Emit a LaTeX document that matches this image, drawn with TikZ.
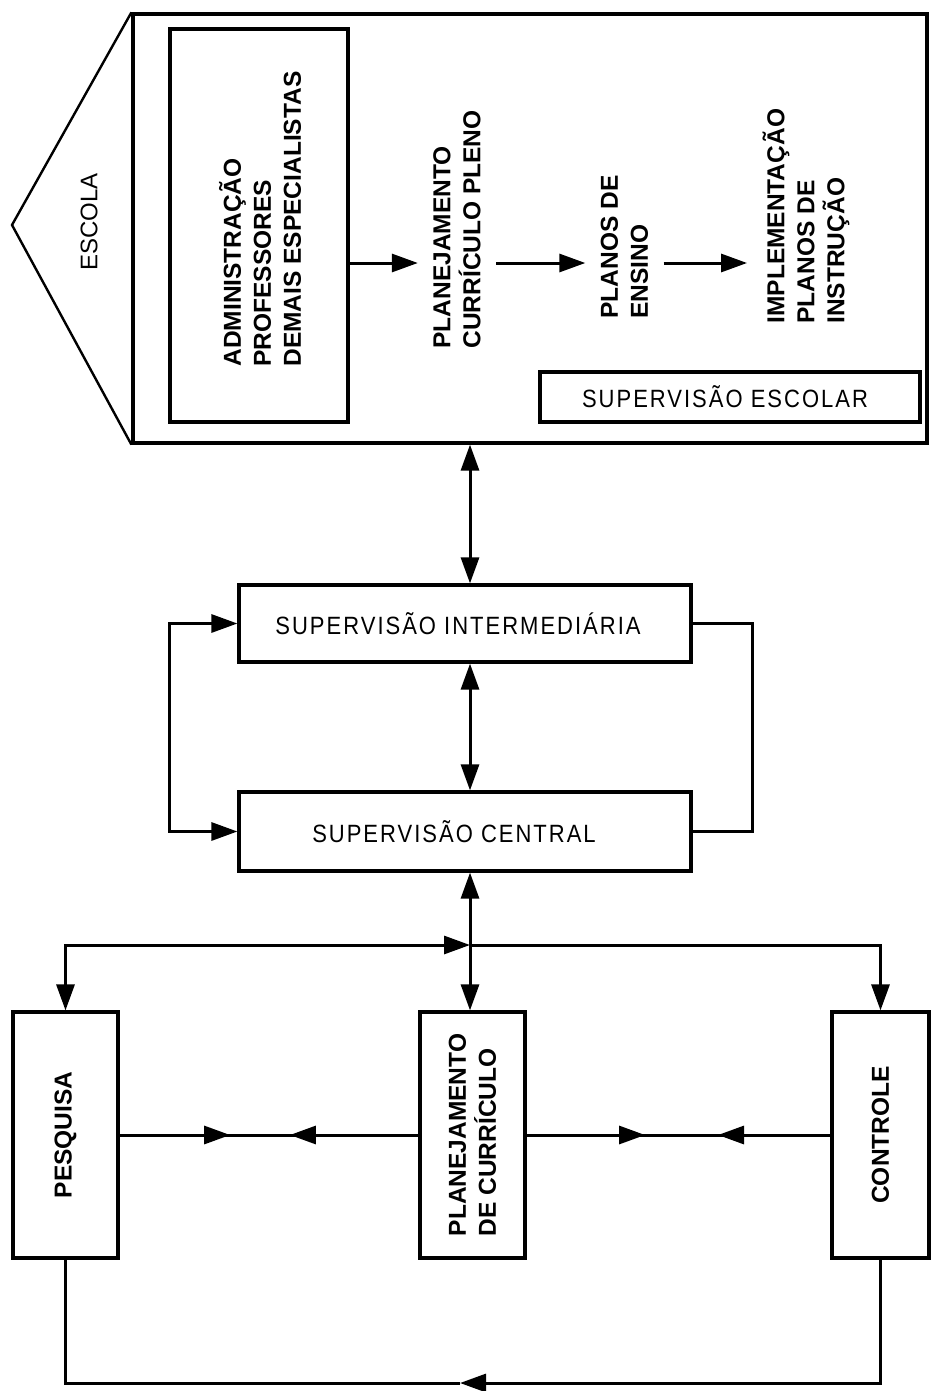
\documentclass[tikz,border=0pt]{standalone}
\usepackage{fontspec}
\setmainfont{Liberation Sans}
\newfontfamily\condsans{Liberation Sans}[FakeStretch=0.88,LetterSpace=8]
\usetikzlibrary{arrows.meta,calc}
\begin{document}
\begin{tikzpicture}[x=1pt,y=-1pt,
  line width=3pt,
  arr/.style={-{Triangle[length=26pt,width=18pt]}},
  darr/.style={{Triangle[length=26pt,width=18pt]}-{Triangle[length=26pt,width=18pt]}},
  box/.style={draw, line width=3.2pt, inner sep=0pt},
  rtext/.style={rotate=90, font=\fontsize{24.5}{30}\selectfont\bfseries, align=left, inner xsep=0pt, inner ysep=14pt},
  htext/.style={font=\condsans\fontsize{25}{28}\selectfont}]
\useasboundingbox (0,0) rectangle (930,1391);

% ---- ESCOLA (pentagon) ----
\node[box, minimum width=794pt, minimum height=429pt] (escola) at (530,228.5) {};
\coordinate (tip) at (12,225);
\draw[line width=2.4pt] (escola.north west) -- (tip) -- (escola.south west);
\node[rotate=90, font=\fontsize{24}{28}\selectfont] (escolalbl) at (89,222) {ESCOLA};

\node[box, minimum width=178pt, minimum height=393pt] (admin) at (259,225.5) {};
\node[rtext, anchor=west] (admintxt) at (260,368) {ADMINISTRAÇÃO\\PROFESSORES\\DEMAIS ESPECIALISTAS};
\node[rtext, anchor=west] (planej) at (457,350) {PLANEJAMENTO\\CURRÍCULO PLENO};
\node[rtext, anchor=west] (planos) at (624.5,320) {PLANOS DE\\ENSINO};
\node[rtext, anchor=west] (implem) at (806,325) {IMPLEMENTAÇÃO\\PLANOS DE\\INSTRUÇÃO};
\coordinate (row) at (0,263);
\draw[arr] (admin.east |- row) -- (planej.north |- row);
\draw[arr] (planej.south |- row) -- (planos.north |- row);
\draw[arr] (planos.south |- row) -- (implem.north |- row);
\node[box, htext, minimum width=380pt, minimum height=50pt] (supesc) at (730,397) {SUPERVISÃO ESCOLAR\hspace*{10pt}};

% ---- middle ----
\node[box, htext, minimum width=452pt, minimum height=77pt] (supint) at (465,623.5) {SUPERVISÃO INTERMEDIÁRIA\hspace*{14pt}};
\node[box, htext, minimum width=452pt, minimum height=79pt] (supcen) at (465,831.5) {SUPERVISÃO CENTRAL\hspace*{22pt}};
\coordinate (vx) at (470,0);
\draw[darr] (escola.south -| vx) -- (supint.north -| vx);
\draw[darr] (supint.south -| vx) -- (supcen.north -| vx);
\draw[darr] (supint.west) -- ++(-68,0) |- (supcen.west);
\draw (supint.east) -- ++(60,0) |- (supcen.east);

% ---- bottom ----
\node[box, minimum width=105pt, minimum height=246pt] (pesq) at (65.5,1135) {};
\node[rtext, inner ysep=0pt] (pesqlbl) at (pesq.center) {PESQUISA};
\node[box, minimum width=105pt, minimum height=246pt] (pc) at (472.5,1135) {};
\node[rtext, inner ysep=0pt] (pclbl) at (pc.center) {PLANEJAMENTO\\DE CURRÍCULO};
\node[box, minimum width=97pt, minimum height=246pt] (ctrl) at (880.5,1135) {};
\node[rtext, inner ysep=0pt] (ctrllbl) at (ctrl.center) {CONTROLE};

\coordinate (hub) at (470,945);
\draw[darr] (hub) -- (pesq.north |- hub) -- (pesq.north);
\draw[arr] (hub) -- (ctrl.north |- hub) -- (ctrl.north);
\draw[darr] (supcen.south -| vx) -- (pc.north -| vx);

\draw (pesq.east) -- (pc.west);
\draw[arr] (pesq.east) -- ($(pesq.east)!0.37!(pc.west)$);
\draw[arr] (pc.west) -- ($(pesq.east)!0.57!(pc.west)$);
\draw (pc.east) -- (ctrl.west);
\draw[arr] (pc.east) -- ($(pc.east)!0.39!(ctrl.west)$);
\draw[arr] (ctrl.west) -- ($(pc.east)!0.63!(ctrl.west)$);

\coordinate (lowtip) at (460,1383);
\draw[arr] (ctrl.south) |- (lowtip);
\draw (lowtip) -- (pesq.south |- lowtip) -- (pesq.south);
\end{tikzpicture}
\end{document}
